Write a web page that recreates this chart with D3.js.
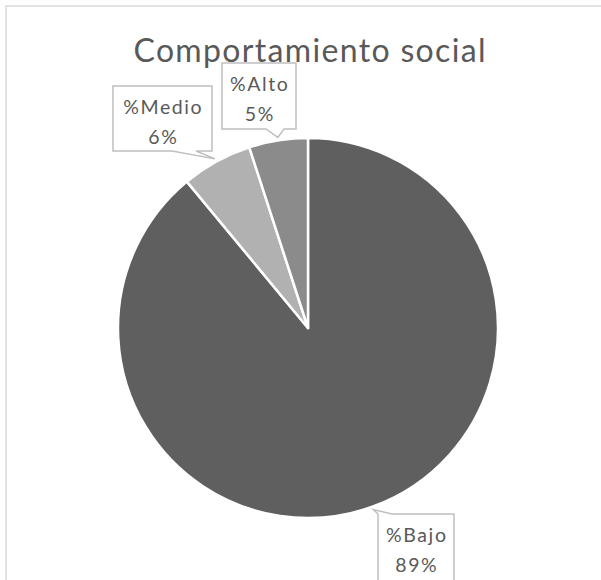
<!DOCTYPE html>
<html>
<head>
<meta charset="utf-8">
<script src="https://cdn.jsdelivr.net/npm/d3@7"></script>
<style>
  html, body { margin: 0; padding: 0; background: #fff; }
  svg { display: block; }
</style>
</head>
<body>
<svg id="chart" width="601" height="580"></svg>
<script>
// Data
const categories = ["%Bajo", "%Medio", "%Alto"];
const values = [89, 6, 5];
const sliceColors = ["#5f5f5f", "#b1b1b1", "#8b8b8b"];
const titleText = "Comportamiento social";

// Layout
const W = 601, H = 580;
const cx = 308, cy = 328, radius = 190;
const textColor = "#595959";
const fontFamily = "Lato, 'Open Sans', sans-serif";

// Callout boxes: rectangle plus the stretch of edge the pointer leaves from
const callouts = {
  "%Bajo":  { x: 378, y: 514, w: 76, h: 80, edge: "top",    b0: 378, b1: 392 },
  "%Medio": { x: 113, y: 86,  w: 99, h: 65, edge: "bottom", b0: 172, b1: 196 },
  "%Alto":  { x: 222, y: 63,  w: 74, h: 66, edge: "bottom", b0: 266, b1: 284 }
};

const svg = d3.select("#chart");

// Outer chart-area frame
svg.append("rect")
  .attr("x", 6).attr("y", 6)
  .attr("width", W + 10).attr("height", H + 10)
  .attr("fill", "none")
  .attr("stroke", "#d9d9d9")
  .attr("stroke-width", 1.5);

// Title
svg.append("text")
  .attr("x", 309.5).attr("y", 62)
  .attr("text-anchor", "middle")
  .attr("font-family", fontFamily)
  .attr("font-size", 32)
  .attr("textLength", 352)
  .attr("lengthAdjust", "spacing")
  .attr("fill", textColor)
  .text(titleText);

const data = categories.map((c, i) => ({ label: c, value: values[i], color: sliceColors[i] }));

const pie = d3.pie().sort(null).value(d => d.value);
const arcs = pie(data);
const arc = d3.arc().innerRadius(0).outerRadius(radius);
const tipArc = d3.arc().innerRadius(radius + 3).outerRadius(radius + 3);

const g = svg.append("g").attr("transform", `translate(${cx},${cy})`);

g.selectAll("path.slice")
  .data(arcs)
  .join("path")
  .attr("class", "slice")
  .attr("d", arc)
  .attr("fill", d => d.data.color)
  .attr("stroke", "#ffffff")
  .attr("stroke-width", 2.5)
  .attr("stroke-linejoin", "round");

// Data labels in callout boxes
arcs.forEach(a => {
  const box = callouts[a.data.label];
  const [tx, ty] = tipArc.centroid(a).map((v, i) => v + (i === 0 ? cx : cy));
  const x0 = box.x, y0 = box.y, x1 = box.x + box.w, y1 = box.y + box.h;
  let p;
  if (box.edge === "bottom") {
    p = `M${x0},${y0}H${x1}V${y1}H${box.b1}L${tx},${ty}L${box.b0},${y1}H${x0}Z`;
  } else {
    p = `M${x0},${y0}H${box.b0}L${tx},${ty}L${box.b1},${y0}H${x1}V${y1}H${x0}Z`;
  }
  svg.append("path")
    .attr("d", p)
    .attr("fill", "#ffffff")
    .attr("stroke", "#bfbfbf")
    .attr("stroke-width", 1.5)
    .attr("stroke-linejoin", "miter");

  const t = svg.append("text")
    .attr("text-anchor", "middle")
    .attr("font-family", fontFamily)
    .attr("font-size", 19.5)
    .attr("letter-spacing", 1.6)
    .attr("fill", textColor);
  t.append("tspan").attr("x", x0 + box.w / 2 + 0.8).attr("y", y0 + 28).text(a.data.label);
  t.append("tspan").attr("x", x0 + box.w / 2 + 0.8).attr("y", y0 + 57.5).text(d3.format(".0%")(a.data.value / 100));
});
</script>
</body>
</html>
